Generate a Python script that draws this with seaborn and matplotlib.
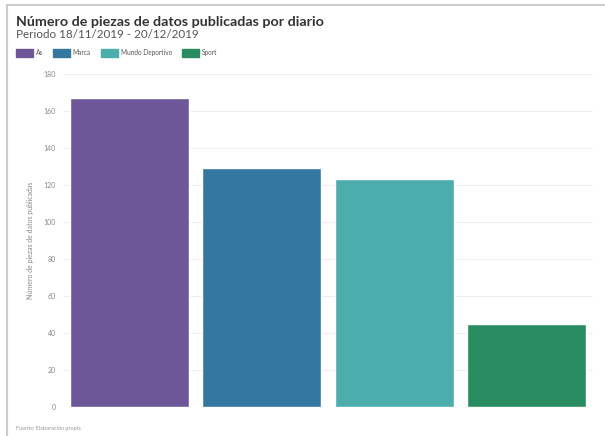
import matplotlib
matplotlib.use("Agg")
import matplotlib.pyplot as plt
import seaborn as sns
import pandas as pd
from matplotlib.patches import Patch, Rectangle

# datos
diarios = ["As", "Marca", "Mundo Deportivo", "Sport"]
piezas = [167, 129, 123, 45]
colores = ["#6e5798", "#34779f", "#4badac", "#2a8d62"]

df = pd.DataFrame({"diario": diarios, "piezas": piezas})

sns.set_style("white")
plt.rcParams["font.family"] = ["Lato", "DejaVu Sans"]

fig = plt.figure(figsize=(6.05, 4.36), dpi=100)
ax = fig.add_axes([63 / 605, 29 / 436, 530 / 605, 333 / 436])

sns.barplot(data=df, x="diario", y="piezas", hue="diario", palette=colores,
            width=0.9, legend=False, ax=ax, saturation=1)

ax.set_ylim(0, 180)
ax.set_yticks(range(0, 181, 20))
ax.set_xticks([])
ax.set_xlabel("")
ax.set_ylabel("Número de piezas de datos publicadas", fontsize=5, color="#888888", labelpad=7)
ax.tick_params(axis="y", labelsize=5, colors="#888888", length=0, pad=5)
ax.grid(axis="y", color="#eeeeee", linewidth=0.8)
ax.set_axisbelow(True)
sns.despine(ax=ax, left=True, bottom=True)

# marco
fig.add_artist(Rectangle((7 / 605, -0.1), 1.2, 1 - 5 / 436 + 0.1, transform=fig.transFigure,
                         fill=False, edgecolor="#cccccc", linewidth=1.5))

fig.text(16 / 605, 1 - 22 / 436, "Número de piezas de datos publicadas por diario",
         fontsize=10.3, fontweight="bold", color="#333333", va="center")
fig.text(16 / 605, 1 - 35 / 436, "Periodo 18/11/2019 - 20/12/2019",
         fontsize=8.4, color="#555555", va="center")

handles = [Patch(facecolor=c, edgecolor=c) for c in colores]
fig.legend(handles, diarios, loc="center left", bbox_to_anchor=(10 / 605, 1 - 53 / 436),
           ncol=4, frameon=False, fontsize=4.7, handlelength=2.6, handleheight=1.4,
           handletextpad=0.45, columnspacing=1.5, labelcolor="#555555")

fig.text(16 / 605, 1 - 428 / 436, "Fuente: Elaboración propia", fontsize=4, color="#999999",
         va="center")

fig.savefig("out.png", dpi=100)
